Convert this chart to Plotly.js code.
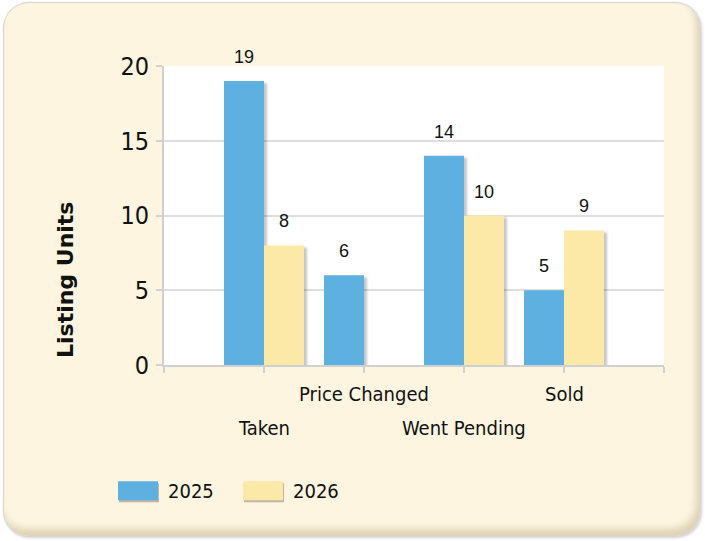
<!DOCTYPE html>
<html>
<head>
<meta charset="utf-8">
<script src="https://cdn.plot.ly/plotly-3.0.1.min.js"></script>
<style>
  html, body { margin: 0; padding: 0; background: #ffffff; }
  #frame {
    position: absolute; left: 3px; top: 2px; width: 696px; height: 533px;
    border-radius: 26px; background: #fdf5df;
    border: 1px solid #d6d6d6;
    box-shadow: inset -4px -7px 7px rgba(165,145,105,0.35), 1px 1px 3px rgba(0,0,0,0.18);
  }
  #chart { position: absolute; left: 0; top: 0; width: 705px; height: 541px; }
  .barlayer .point path { filter: drop-shadow(3px 2px 1px rgba(0,0,0,0.22)); }
  .legend .legendpoints path { filter: drop-shadow(1px 2px 0.5px rgba(0,0,0,0.25)); }
  .legend .legendtext { transform: translateX(10px); }
</style>
</head>
<body>
<div id="frame"></div>
<div id="chart"></div>
<script>
const categories = ['Taken', 'Price Changed', 'Went Pending', 'Sold'];
const seriesNames = ['2025', '2026'];
const values2025 = [19, 6, 14, 5];
const values2026 = [8, null, 10, 9];
const colors = ['#5db0df', '#fce8a7'];
const yTicks = [0, 5, 10, 15, 20];

const xIdx = categories.map((c, i) => i);
const series = [values2025, values2026];

const traces = series.map((vals, s) => ({
  type: 'bar',
  name: seriesNames[s],
  x: xIdx,
  y: vals,
  customdata: categories,
  hovertemplate: '%{customdata}: %{y}<extra>' + seriesNames[s] + '</extra>',
  marker: { color: colors[s], line: { width: 0 } }
}));

const annotations = [];
// value labels above bars
series.forEach((vals, s) => {
  vals.forEach((v, i) => {
    if (v === null || v === undefined) return;
    annotations.push({
      x: i + (s === 0 ? -0.2 : 0.2), y: v, xref: 'x', yref: 'y',
      text: String(v), showarrow: false, yanchor: 'bottom', yshift: 12,
      font: { family: 'Liberation Sans, Arial, sans-serif', size: 18, color: '#111' }
    });
  });
});
// staggered category labels
categories.forEach((c, i) => {
  annotations.push({
    x: i, y: 0, xref: 'x', yref: 'y',
    text: c, showarrow: false, yanchor: 'top', yshift: (i % 2 === 1) ? -15 : -49,
    font: { family: 'DejaVu Sans Condensed, Liberation Sans, sans-serif', size: 20, color: '#111' }
  });
});
// y axis title
annotations.push({
  x: 0, y: 0, xref: 'paper', yref: 'paper', xshift: -99, yshift: 85,
  text: '<b>Listing Units</b>', textangle: -90, showarrow: false,
  xanchor: 'center', yanchor: 'middle',
  font: { family: 'DejaVu Sans, sans-serif', size: 22, color: '#111' }
});

const layout = {
  width: 705, height: 541,
  margin: { l: 164, r: 41, t: 66, b: 176 },
  paper_bgcolor: 'rgba(0,0,0,0)',
  plot_bgcolor: '#ffffff',
  barmode: 'group', bargap: 0.2, bargroupgap: 0,
  showlegend: true,
  legend: {
    orientation: 'h', x: -0.092, y: -0.355, xanchor: 'left', yanchor: 'top',
    entrywidth: 80, entrywidthmode: 'pixels',
    bgcolor: 'rgba(0,0,0,0)',
    font: { family: 'DejaVu Sans Condensed, Liberation Sans, sans-serif', size: 20, color: '#111' }
  },
  xaxis: {
    type: 'linear', range: [-1, 4], tickvals: [-1, 0, 1, 2, 3, 4],
    showticklabels: false, ticks: 'outside', ticklen: 6, tickwidth: 2, tickcolor: '#d0d0d0',
    showline: true, linecolor: '#d0d0d0', linewidth: 2,
    showgrid: false, zeroline: false, fixedrange: true
  },
  yaxis: {
    range: [0, 20], tickvals: yTicks, ticktext: yTicks.map(String),
    ticks: 'outside', ticklen: 6, tickwidth: 2, tickcolor: '#d0d0d0',
    ticklabelstandoff: 2,
    showline: true, linecolor: '#d0d0d0', linewidth: 2,
    showgrid: true, gridcolor: '#dedede', gridwidth: 2,
    zeroline: false, fixedrange: true,
    tickfont: { family: 'DejaVu Sans Condensed, Liberation Sans, sans-serif', size: 25, color: '#111' }
  },
  annotations: annotations
};

Plotly.newPlot('chart', traces, layout, { displayModeBar: false }).then(function () {
  // enlarge legend swatches to match the reference (40 x 19 px)
  document.querySelectorAll('#chart .legend .legendpoints path').forEach(function (p) {
    p.setAttribute('d', 'M20,9.5H-20V-9.5H20Z');
  });
});
</script>
</body>
</html>
